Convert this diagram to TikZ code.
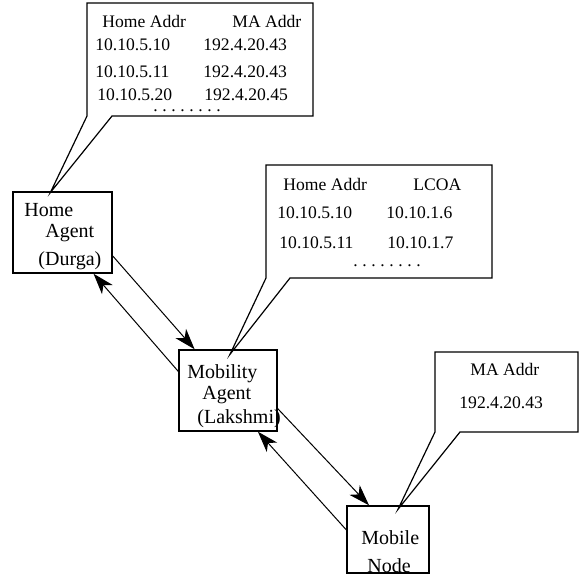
\documentclass[tikz,border=0pt]{standalone}
\usepackage{fontspec}
\setmainfont{Liberation Serif}
\usetikzlibrary{arrows.meta,calc}
\newcommand\rowdots{.\kern2.3pt.\kern2.3pt.\kern2.3pt.\kern2.3pt.\kern2.3pt.\kern2.3pt.\kern2.3pt.}
\begin{document}
\begin{tikzpicture}[x=0.5pt,y=-0.5pt,
  agentbox/.style={draw,line width=0.7pt,inner sep=0pt},
  lbl/.style={font=\fontsize{10}{12}\selectfont,anchor=base west,inner sep=0pt},
  tab/.style={font=\fontsize{8.8}{10}\selectfont,anchor=base west,inner sep=0pt},
  arr/.style={-{Stealth[length=10.5pt,width=7pt,inset=3pt]},line width=0.5pt}]
\useasboundingbox (0,0) rectangle (580,575);
% the three agents
\node[agentbox,minimum width=49.5pt,minimum height=40.5pt] (ha) at (62.5,232.5) {};
\node[agentbox,minimum width=49pt,minimum height=40.5pt] (ma) at (228,390.5) {};
\node[agentbox,minimum width=41pt,minimum height=33.5pt] (mn) at (388,539.5) {};
\node[lbl] (hahome) at (24,216) {Home};
\node[lbl] (haagent) at (45,237) {Agent};
\node[lbl] (haname) at (38,265) {(Durga)};
\node[lbl] (mamob) at (187,378) {Mobility};
\node[lbl] (maagent) at (202,399) {Agent};
\node[lbl] (maname) at (197,423) {(Lakshmi)};
\node[lbl] (mnmob) at (361,544) {Mobile};
\node[lbl] (mnnode) at (367,572) {Node};
% callouts
\coordinate (hatip) at ($(ha.north)+(-12,1)$);
\coordinate (matip) at ($(ma.north)+(2,5)$);
\coordinate (mntip) at ($(mn.north)+(10,4)$);
\draw[line width=0.6pt] (87,3) -- (87,116) -- (hatip) -- (112,116) -- (313,116) -- (313,3) -- cycle;
\draw[line width=0.6pt] (266,165) -- (266,278) -- (matip) -- (290,278) -- (492,278) -- (492,165) -- cycle;
\draw[line width=0.6pt] (435,352) -- (435,432) -- (mntip) -- (460,432) -- (578,432) -- (578,352) -- cycle;
% home agent table
\node[tab] (hah1) at (102,27) {Home Addr};
\node[tab] (hah2) at (232,27) {MA Addr};
\node[tab] (haa1) at (95,50) {10.10.5.10};
\node[tab] (hab1) at (203,50) {192.4.20.43};
\node[tab] (haa2) at (95,77) {10.10.5.11};
\node[tab] (hab2) at (203,77) {192.4.20.43};
\node[tab] (haa3) at (97,100) {10.10.5.20};
\node[tab] (hab3) at (204,100) {192.4.20.45};
\node[tab] (hadots) at (153,111) {\rowdots};
% mobility agent table
\node[tab] (mah1) at (283,190) {Home Addr};
\node[tab] (mah2) at (413,190) {LCOA};
\node[tab] (maa1) at (277,218) {10.10.5.10};
\node[tab] (mab1) at (386,218) {10.10.1.6};
\node[tab] (maa2) at (279,248) {10.10.5.11};
\node[tab] (mab2) at (387,248) {10.10.1.7};
\node[tab] (madots) at (353,266) {\rowdots};
% mobile node table
\node[tab] (mnh1) at (470,375) {MA Addr};
\node[tab] (mna1) at (459,408) {192.4.20.43};
% messages
\draw[arr] (ha.-25) -- (ma.129);
\draw[arr] (ma.159) -- (ha.-53);
\draw[arr] (ma.-20) -- (mn.119);
\draw[arr] (mn.167) -- (ma.-54);
\end{tikzpicture}
\end{document}
